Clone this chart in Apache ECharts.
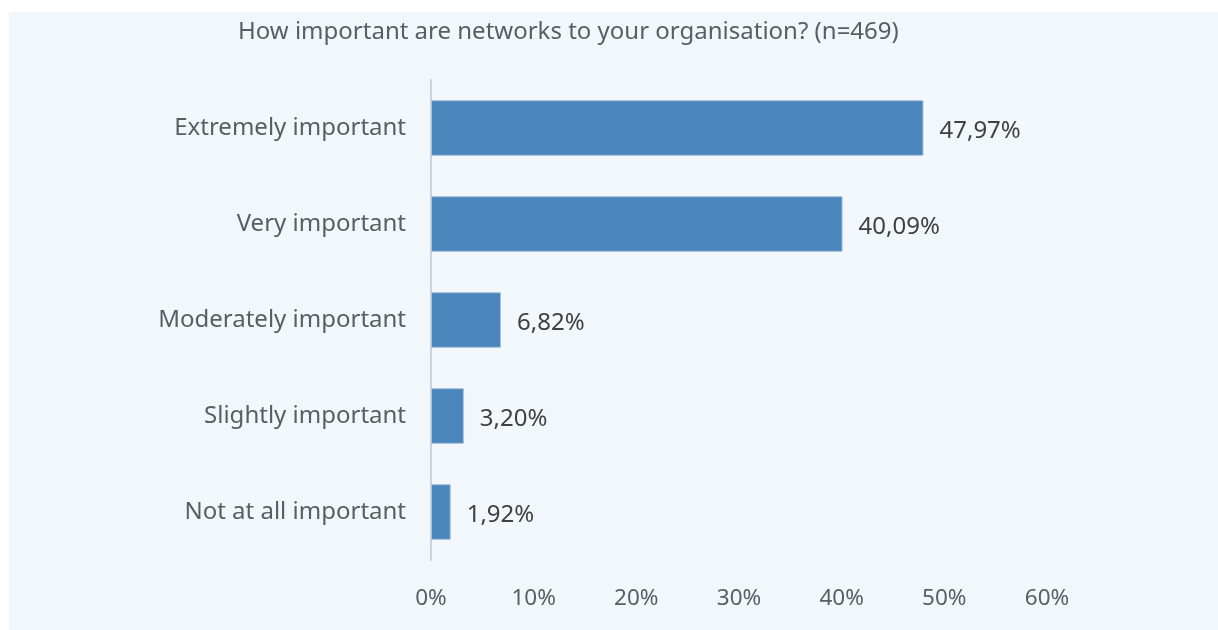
<!DOCTYPE html>
<html>
<head>
<meta charset="utf-8">
<script src="https://cdn.jsdelivr.net/npm/echarts@6/dist/echarts.min.js"></script>
<style>
  html, body { margin: 0; padding: 0; background: #ffffff; }
  #chart { position: absolute; left: 9px; top: 12px; width: 1209px; height: 618px; background: #f2f7fc; }
</style>
</head>
<body>
<div id="chart"></div>
<script>
const titleText = "How important are networks to your organisation? (n=469)";
const categories = ["Extremely important", "Very important", "Moderately important", "Slightly important", "Not at all important"];
const values = [47.97, 40.09, 6.82, 3.20, 1.92];
const tickValues = [0, 10, 20, 30, 40, 50, 60];

const font = '"Noto Sans", "Open Sans", sans-serif';
let myChart = echarts.init(document.getElementById("chart"));
let option = {
  backgroundColor: "#f2f7fc",
  animation: false,
  textStyle: { fontFamily: font },
  graphic: {
    type: "text",
    left: 229,
    top: 8,
    style: {
      text: titleText,
      fill: "#595e63",
      font: '24px "Noto Sans", "Open Sans", sans-serif',
    },
  },
  grid: { left: 422, right: 171, top: 68, bottom: 70, containLabel: false },
  xAxis: {
    type: "value",
    min: tickValues[0],
    max: tickValues[tickValues.length - 1],
    interval: 10,
    axisLine: { show: false },
    axisTick: { show: false },
    splitLine: { show: false },
    axisLabel: {
      formatter: "{value}%",
      margin: 27,
      fontSize: 22.5,
      color: "#595e63",
      fontFamily: font,
    },
  },
  yAxis: {
    type: "category",
    inverse: true,
    data: categories,
    axisLine: { show: true, lineStyle: { color: "#d0d3d6", width: 2 } },
    axisTick: { show: false },
    axisLabel: { margin: 25, fontSize: 24, color: "#595e63", fontFamily: font, padding: [8, 0, 0, 0] },
  },
  series: [
    {
      type: "bar",
      data: values,
      barCategoryGap: "42%",
      itemStyle: { color: "#4a86bb", borderColor: "#a9c3dc", borderWidth: 1 },
      label: {
        show: true,
        position: "right",
        distance: 16,
        offset: [0, 3],
        fontSize: 24,
        color: "#404040",
        fontFamily: font,
        formatter: (p) => p.value.toFixed(2).replace(".", ",") + "%",
      },
    },
  ],
};
myChart.setOption(option);
</script>
</body>
</html>
